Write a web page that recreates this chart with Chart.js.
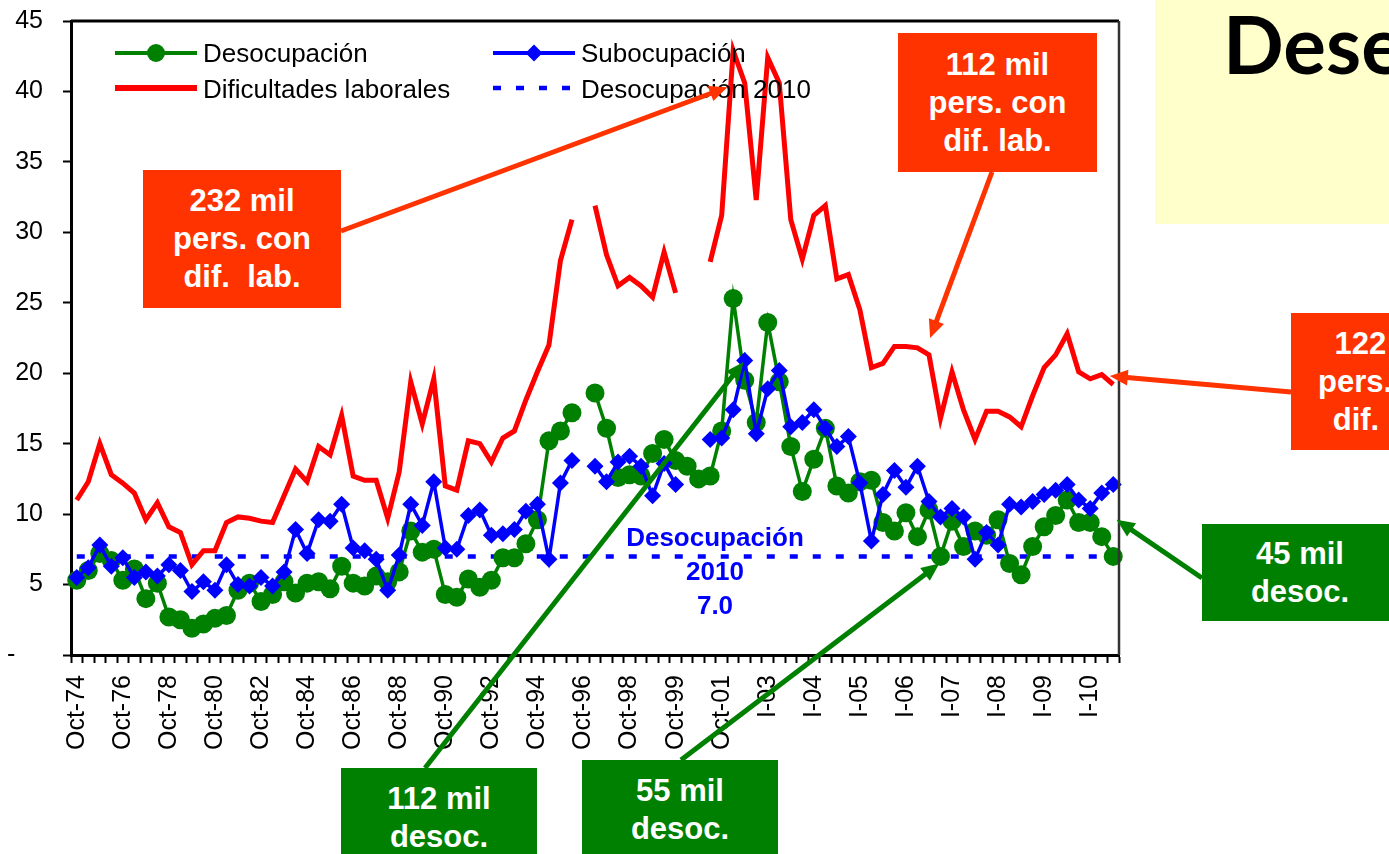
<!DOCTYPE html>
<html>
<head>
<meta charset="utf-8">
<script src="https://cdn.jsdelivr.net/npm/chart.js@4.4.1/dist/chart.umd.min.js"></script>
<style>
html, body { margin: 0; padding: 0; background: #fff; overflow: hidden; }
#wrap { position: relative; width: 1389px; height: 854px; overflow: hidden; }
#chart { position: absolute; left: 0; top: 0; }
.box { position: absolute; color: #fff; font: bold 31px "Liberation Sans", Arial, sans-serif; line-height: 38px;
       text-align: center; display: flex; align-items: center; justify-content: center; white-space: pre; z-index: 2; }
.orange { background: #FF3300; }
.green { background: #008000; }
#title { position: absolute; left: 1155px; top: 0; width: 260px; height: 224px; background: #FFFFCC; z-index: 1; }
#title span { position: absolute; left: 68px; top: -5px; font: bold 80px Lato, "Open Sans", sans-serif; color: #000; white-space: nowrap; }
#ref2010 { position: absolute; left: 605px; top: 520px; width: 220px; text-align: center; color: #0000FF;
           font: bold 26px "Liberation Sans", Arial, sans-serif; line-height: 34px; z-index: 2; }
</style>
</head>
<body>
<div id="wrap">
  <canvas id="chart" width="1389" height="854"></canvas>
  <div id="title"><span>Desempleo</span></div>
  <div class="box orange" style="left:143px;top:170px;width:198px;height:138px;">232 mil
pers. con
dif.  lab.</div>
  <div class="box orange" style="left:898px;top:33px;width:199px;height:139px;">112 mil
pers. con
dif. lab.</div>
  <div class="box orange" style="left:1291px;top:313px;width:192px;height:137px;">122 mil
pers. con
dif. lab.</div>
  <div class="box green" style="left:1202px;top:524px;width:196px;height:97px;">45 mil
desoc.</div>
  <div class="box green" style="left:341px;top:768px;width:196px;height:100px;">112 mil
desoc.</div>
  <div class="box green" style="left:582px;top:760px;width:196px;height:100px;">55 mil
desoc.</div>
  <div id="ref2010">Desocupación<br>2010<br>7.0</div>
</div>
<script>
// categories (semestral waves until 2003, then quarters)
const cats = [
  'Oct-74','May-75','Oct-75','May-76','Oct-76','May-77','Oct-77','May-78','Oct-78','May-79',
  'Oct-79','May-80','Oct-80','May-81','Oct-81','May-82','Oct-82','May-83','Oct-83','May-84',
  'Oct-84','May-85','Oct-85','May-86','Oct-86','May-87','Oct-87','May-88','Oct-88','May-89',
  'Oct-89','May-90','Oct-90','May-91','Oct-91','May-92','Oct-92','May-93','Oct-93','May-94',
  'Oct-94','May-95','Oct-95','May-96','Oct-96','May-97','Oct-97','May-98','Oct-98','May-99',
  'Jun-99','Ago-99','Oct-99','May-00','Oct-00','May-01','Oct-01','May-02','Oct-02','May-03',
  'I-03','II-03','III-03','IV-03','I-04','II-04','III-04','IV-04','I-05','II-05',
  'III-05','IV-05','I-06','II-06','III-06','IV-06','I-07','II-07','III-07','IV-07',
  'I-08','II-08','III-08','IV-08','I-09','II-09','III-09','IV-09','I-10','II-10','III-10'
];

const desocupacion = [
  5.3, 6.0, 7.2, 6.7, 5.3, 6.1, 4.0, 5.1, 2.7, 2.5,
  1.9, 2.2, 2.6, 2.8, 4.6, 5.1, 3.8, 4.3, 5.2, 4.4,
  5.1, 5.2, 4.7, 6.3, 5.1, 4.9, 5.6, 5.2, 5.9, 8.8,
  7.3, 7.5, 4.3, 4.1, 5.4, 4.8, 5.3, 6.9, 6.9, 7.9,
  9.6, 15.2, 15.9, 17.2, null, 18.6, 16.1, 12.6, 12.8, 12.7,
  14.3, 15.3, 13.8, 13.4, 12.5, 12.7, 15.9, 25.3, 19.5, 16.5,
  23.6, 19.4, 14.8, 11.6, 13.9, 16.1, 12.0, 11.5, 12.3, 12.4,
  9.4, 8.8, 10.1, 8.4, 10.3, 7.0, 9.5, 7.7, 8.8, 8.5,
  9.6, 6.5, 5.7, 7.7, 9.1, 9.9, 11.0, 9.4, 9.4, 8.4, 7.0
];

const subocupacion = [
  5.5, 6.2, 7.8, 6.3, 6.9, 5.5, 5.9, 5.6, 6.4, 6.0,
  4.5, 5.2, 4.6, 6.4, 5.0, 4.9, 5.5, 4.9, 5.9, 8.9,
  7.2, 9.6, 9.5, 10.7, 7.6, 7.4, 6.8, 4.6, 7.1, 10.7,
  9.2, 12.3, 7.6, 7.5, 9.9, 10.3, 8.5, 8.6, 8.9, 10.2,
  10.7, 6.8, 12.2, 13.8, null, 13.4, 12.3, 13.7, 14.1, 13.4,
  11.3, 13.6, 12.1, null, null, 15.3, 15.4, 17.4, 20.9, 15.7,
  18.9, 20.2, 16.2, 16.5, 17.4, 16.1, 14.8, 15.5, 12.2, 8.1,
  11.4, 13.1, 11.9, 13.4, 10.9, 9.8, 10.4, 9.8, 6.8, 8.7,
  7.8, 10.7, 10.5, 10.9, 11.4, 11.7, 12.1, 11.0, 10.4, 11.5, 12.1
];

const dificultades = [
  11.0, 12.3, 15.0, 12.8, 12.2, 11.5, 9.6, 10.8, 9.1, 8.7,
  6.4, 7.4, 7.4, 9.4, 9.8, 9.7, 9.5, 9.4, 11.3, 13.2,
  12.3, 14.8, 14.2, 17.0, 12.7, 12.4, 12.4, 9.7, 13.0, 19.4,
  16.4, 19.6, 12.0, 11.7, 15.2, 15.0, 13.7, 15.4, 15.9, 18.1,
  20.1, 22.0, 28.0, 30.9, null, 31.9, 28.4, 26.2, 26.8, 26.2,
  25.4, 28.6, 25.7, null, null, 27.9, 31.2, 42.9, 40.6, 32.3,
  42.4, 40.6, 30.9, 28.1, 31.2, 31.9, 26.7, 27.0, 24.5, 20.4,
  20.7, 21.9, 21.9, 21.8, 21.3, 16.8, 20.1, 17.4, 15.3, 17.3,
  17.3, 16.9, 16.2, 18.4, 20.4, 21.3, 22.8, 20.1, 19.6, 19.9, 19.2
];

const DESOC_2010 = 7.0;
const yTicks = [0, 5, 10, 15, 20, 25, 30, 35, 40, 45];

const FONT = '"Liberation Sans", Arial, sans-serif';

// arrows: start in page pixels (box edge), tip in data coords [category index, value]
const arrows = [
  { from: [341, 231], tip: [56.5, 40.3], color: '#FF3300' },
  { from: [992, 172], tip: [74.1, 22.5], color: '#FF3300' },
  { from: [1291, 392], tip: [89.7, 19.8], color: '#FF3300' },
  { from: [425, 768], tip: [57.9, 20.8], color: '#008000' },
  { from: [681, 760], tip: [74.9, 6.5], color: '#008000' },
  { from: [1202, 578], tip: [90.3, 9.6], color: '#008000' }
];

function drawArrow(ctx, x0, y0, x1, y1, color) {
  const a = Math.atan2(y1 - y0, x1 - x0), L = 18, W = 8;
  const c = Math.cos(a), s = Math.sin(a);
  ctx.save();
  ctx.strokeStyle = color; ctx.fillStyle = color; ctx.lineWidth = 5;
  ctx.beginPath(); ctx.moveTo(x0, y0); ctx.lineTo(x1 - c * L * 0.8, y1 - s * L * 0.8); ctx.stroke();
  ctx.beginPath();
  ctx.moveTo(x1, y1);
  ctx.lineTo(x1 - L * c + W * s, y1 - L * s - W * c);
  ctx.lineTo(x1 - L * c - W * s, y1 - L * s + W * c);
  ctx.closePath(); ctx.fill();
  ctx.restore();
}

const framePlugin = {
  id: 'frame',
  afterDraw(chart) {
    const { ctx, chartArea: a, scales } = chart;
    ctx.save();
    // top and right border of plot area
    ctx.strokeStyle = '#000'; ctx.lineWidth = 3;
    ctx.beginPath(); ctx.moveTo(a.left, a.top); ctx.lineTo(a.right, a.top); ctx.stroke();
    ctx.strokeStyle = '#333'; ctx.lineWidth = 2.5;
    ctx.beginPath(); ctx.moveTo(a.right, a.top); ctx.lineTo(a.right, a.bottom); ctx.stroke();

    // legend
    ctx.font = '26px ' + FONT; ctx.textBaseline = 'alphabetic';
    ctx.lineWidth = 4; ctx.strokeStyle = '#008000';
    ctx.beginPath(); ctx.moveTo(115, 53); ctx.lineTo(197, 53); ctx.stroke();
    ctx.fillStyle = '#008000'; ctx.beginPath(); ctx.arc(156, 53, 9, 0, Math.PI * 2); ctx.fill();
    ctx.strokeStyle = '#0000FF';
    ctx.beginPath(); ctx.moveTo(493, 53); ctx.lineTo(575, 53); ctx.stroke();
    ctx.fillStyle = '#0000FF'; ctx.beginPath();
    ctx.moveTo(534, 44.5); ctx.lineTo(542.5, 53); ctx.lineTo(534, 61.5); ctx.lineTo(525.5, 53); ctx.closePath(); ctx.fill();
    ctx.strokeStyle = '#FF0000'; ctx.lineWidth = 6;
    ctx.beginPath(); ctx.moveTo(115, 88); ctx.lineTo(197, 88); ctx.stroke();
    ctx.strokeStyle = '#0000FF'; ctx.lineWidth = 4.5; ctx.setLineDash([8, 15]);
    ctx.beginPath(); ctx.moveTo(493, 88); ctx.lineTo(575, 88); ctx.stroke();
    ctx.setLineDash([]);
    ctx.fillStyle = '#000';
    ctx.fillText('Desocupación', 203, 62);
    ctx.fillText('Subocupación', 581, 62);
    ctx.fillText('Dificultades laborales', 203, 97.5);
    ctx.fillText('Desocupación 2010', 581, 97.5);

    // callout arrows
    arrows.forEach(ar => {
      const tx = scales.x.getPixelForValue(ar.tip[0]);
      const ty = scales.y.getPixelForValue(ar.tip[1]);
      drawArrow(ctx, ar.from[0], ar.from[1], tx, ty, ar.color);
    });
    ctx.restore();
  }
};

new Chart(document.getElementById('chart'), {
  type: 'line',
  data: {
    labels: cats,
    datasets: [
      {
        label: 'Dificultades laborales', data: dificultades,
        borderColor: '#FF0000', backgroundColor: '#FF0000', borderWidth: 5,
        pointRadius: 0, tension: 0, clip: false, order: 1
      },
      {
        label: 'Subocupación', data: subocupacion,
        borderColor: '#0000FF', backgroundColor: '#0000FF', borderWidth: 3.5,
        pointStyle: 'rectRot', pointRadius: 8.5, pointBorderWidth: 0, tension: 0, clip: false, order: 2
      },
      {
        label: 'Desocupación', data: desocupacion,
        borderColor: '#008000', backgroundColor: '#008000', borderWidth: 3.5,
        pointStyle: 'circle', pointRadius: 9.5, pointBorderWidth: 0, tension: 0, clip: false, order: 3
      },
      {
        label: 'Desocupación 2010',
        data: [{ x: cats[0], y: DESOC_2010 }, { x: cats[cats.length - 1], y: DESOC_2010 }],
        borderColor: '#0000FF', borderWidth: 4.5, borderDash: [8, 15],
        pointRadius: 0, clip: false, order: 4
      }
    ]
  },
  options: {
    responsive: false,
    animation: false,
    events: [],
    layout: { autoPadding: false, padding: { top: 21, right: 270, left: 0, bottom: 0 } },
    plugins: { legend: { display: false }, tooltip: { enabled: false } },
    scales: {
      x: {
        type: 'category',
        offset: true,
        grid: { display: true, drawOnChartArea: false, drawTicks: true, tickLength: 8, tickWidth: 2, tickColor: '#000', offset: true },
        border: { display: true, color: '#000', width: 3 },
        ticks: {
          autoSkip: false, maxRotation: 90, minRotation: 90, padding: 12, color: '#000',
          font: { family: FONT, size: 25 },
          callback: (v, i) => (i % 4 === 0 ? cats[i] : '')
        },
        afterFit: s => { s.height = 199; s.paddingLeft = 0; s.paddingRight = 0; }
      },
      y: {
        min: 0, max: 45,
        afterBuildTicks: s => { s.ticks = yTicks.map(v => ({ value: v })); },
        grid: { drawOnChartArea: false, drawTicks: true, tickLength: 8, tickWidth: 2, tickColor: '#000' },
        border: { display: true, color: '#000', width: 3 },
        ticks: {
          padding: 20, color: '#000', font: { family: FONT, size: 25 },
          callback: v => (v === 0 ? '-    ' : String(v))
        },
        afterFit: s => { s.width = 71; s.paddingTop = 0; s.paddingBottom = 0; }
      }
    }
  },
  plugins: [framePlugin]
});
</script>
</body>
</html>
